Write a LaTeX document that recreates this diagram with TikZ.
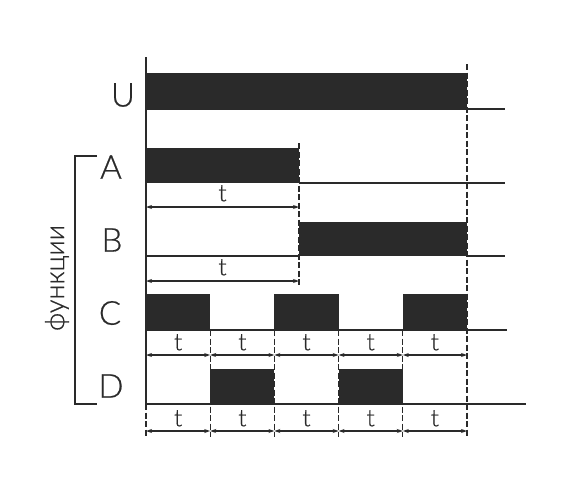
\documentclass[tikz,border=0pt]{standalone}
\usepackage{fontspec}
\setmainfont{Lato Light}[FakeBold=0.6,AutoFakeBold=0.6]
\usetikzlibrary{arrows.meta}
\definecolor{ink}{HTML}{2A2A2A}

\begin{document}
\begin{tikzpicture}[x=1pt,y=-1pt,>={Stealth[length=6pt,width=4pt]},
  bar/.style={fill=ink},
  base/.style={draw=ink,line width=1.6pt},
  guide/.style={draw=ink,line width=1.2pt,dash pattern=on 6pt off 2.5pt},
  dim/.style={draw=ink,<->,line width=1.2pt},
  sig/.style={font=\fontsize{33}{33}\selectfont\bfseries,text=ink},
  per/.style={font=\fontsize{24}{24}\selectfont\bfseries,text=ink,inner sep=0pt}]
\useasboundingbox (0,0) rectangle (570,499);
\foreach \i/\x in {0/146,1/210.2,2/274.4,3/338.6,4/402.8,5/467}
  \coordinate (t\i) at (\x,0);
\coordinate (ta) at (299,0);
%signals
\fill[bar] (t0|-0,73) rectangle (t5|-0,110);
\fill[bar] (t0|-0,148) rectangle (ta|-0,183);
\fill[bar] (ta|-0,222) rectangle (t5|-0,256);
\foreach \a/\b in {0/1,2/3,4/5}
  \fill[bar] (t\a|-0,294) rectangle (t\b|-0,330);
\foreach \a/\b in {1/2,3/4}
  \fill[bar] (t\a|-0,369) rectangle (t\b|-0,404);
\draw[base] (t0|-0,57) -- (t0|-0,404);
\draw[base] (t5|-0,109) -- (505,109);
\draw[base] (ta|-0,183) -- (505,183);
\draw[base] (t0|-0,256) -- (ta|-0,256) (t5|-0,256) -- (505,256);
\draw[base] (t0|-0,330) -- (507,330);
\draw[base] (t0|-0,404) -- (526,404);
%guides
\draw[guide] (t0|-0,404) -- (t0|-0,437);
\draw[guide] (t5|-0,64) -- (t5|-0,437);
\draw[guide] (ta|-0,143) -- (ta|-0,285);
\foreach \i in {1,...,4}
  \draw[guide] (t\i|-0,330) -- (t\i|-0,437);
%periods
\draw[dim] (t0|-0,207) -- node[per,above=5pt] (pa) {t} (ta|-0,207);
\draw[dim] (t0|-0,281) -- node[per,above=5pt] (pb) {t} (ta|-0,281);
\foreach \a/\b in {0/1,1/2,2/3,3/4,4/5}{
  \draw[dim] (t\a|-0,355) -- node[per,above=4pt] (pc\a) {t} (t\b|-0,355);
  \draw[dim] (t\a|-0,431) -- node[per,above=4pt] (pd\a) {t} (t\b|-0,431);
}
%labels
\node[sig] (lU) at (123,95) {U};
\node[sig] (lA) at (111,167) {A};
\node[sig] (lB) at (112,240) {B};
\node[sig] (lC) at (110,313) {C};
\node[sig] (lD) at (111,386) {D};
\draw[draw=ink,line width=1.2pt] (97,156) -- (75,156) -- (75,404) -- (97,404);
\node[font=\fontsize{27}{27}\selectfont\bfseries,text=ink,rotate=90] (fn) at (57,278) {функции};
\end{tikzpicture}
\end{document}
